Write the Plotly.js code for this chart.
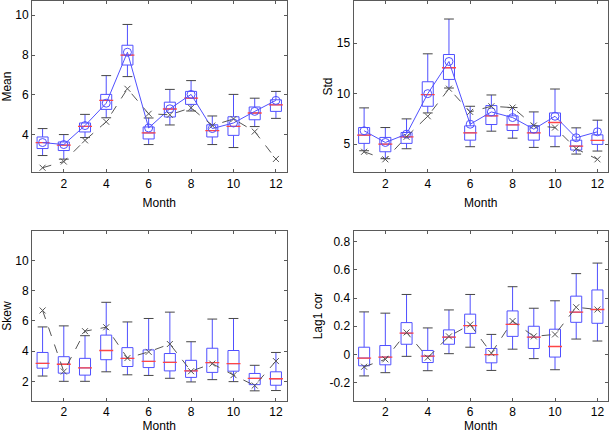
<!DOCTYPE html>
<html>
<head>
<meta charset="utf-8">
<script src="https://cdn.plot.ly/plotly-3.0.1.min.js"></script>
<style>html,body{margin:0;padding:0;background:#fff;}#chart{width:609px;height:433px;}</style>
</head>
<body>
<div id="chart"></div>
<script>
const months = [1,2,3,4,5,6,7,8,9,10,11,12];

// Panel 1: Mean
const meanLow  = [2.97,2.79,3.87,4.86,6.92,3.52,4.50,5.20,3.52,3.37,4.42,4.83];
const meanQ1   = [3.32,3.22,4.15,5.28,7.50,3.80,4.90,5.53,3.90,3.98,4.76,5.18];
const meanMed  = [3.62,3.49,4.43,5.73,8.00,4.10,5.30,5.84,4.22,4.43,5.10,5.51];
const meanQ3   = [3.90,3.65,4.60,6.03,8.49,4.40,5.64,6.18,4.51,4.91,5.40,5.76];
const meanHigh = [4.32,4.02,5.03,6.97,9.53,4.85,6.28,6.72,4.95,6.03,5.84,6.18];
const meanSim  = [3.62,3.52,4.47,5.59,8.14,4.35,5.31,6.03,4.32,4.60,5.18,5.73];
const meanObs  = [2.36,2.67,3.73,4.66,6.31,5.06,5.01,5.36,4.47,4.80,4.17,2.80];

// Panel 2: Std
const stdLow  = [4.34,3.55,4.54,8.09,10.56,4.74,6.28,5.59,4.67,4.74,4.01,4.31];
const stdQ1   = [5.07,4.24,5.07,8.75,11.41,5.39,6.94,6.35,5.39,5.79,4.41,4.97];
const stdMed  = [5.89,5.00,5.72,9.90,12.57,6.12,7.80,6.91,6.12,7.14,4.80,5.36];
const stdQ3   = [6.64,5.66,6.15,11.18,13.88,6.81,8.82,7.80,6.81,8.09,5.39,5.92];
const stdHigh = [8.59,6.64,7.50,13.95,17.40,8.75,9.87,8.62,8.19,10.46,6.61,7.37];
const stdSim  = [6.32,5.16,5.99,10.00,13.19,6.97,8.19,7.63,6.48,7.76,5.63,6.22];
const stdObs  = [4.24,3.49,5.72,7.76,10.49,8.19,8.75,8.62,6.84,6.64,4.54,3.49];

// Panel 3: Skew
const skewLow  = [2.35,2.00,2.00,2.63,2.43,2.39,2.20,1.96,2.11,1.98,1.37,1.39];
const skewQ1   = [2.87,2.54,2.41,3.43,2.98,2.91,2.69,2.26,2.59,2.67,1.78,1.74];
const skewMed  = [3.19,3.13,2.89,4.04,3.52,3.32,3.26,2.69,3.24,3.17,2.20,2.17];
const skewQ3   = [3.91,3.63,3.52,5.06,4.23,4.08,3.84,3.39,4.19,4.04,2.52,2.63];
const skewHigh = [5.60,5.67,5.02,7.23,5.93,6.16,6.58,4.62,6.12,6.16,3.06,3.91];
const skewObs  = [6.69,2.65,5.32,5.58,3.54,3.95,4.47,2.67,3.17,2.41,1.72,3.34];

// Panel 4: Lag1 cor
const corLow  = [-0.153,-0.130,-0.014,-0.116,0.005,0.051,-0.114,0.037,-0.030,-0.109,0.109,0.095];
const corQ1   = [-0.081,-0.074,0.072,-0.058,0.072,0.149,-0.060,0.128,0.042,-0.019,0.228,0.221];
const corMed  = [-0.026,-0.019,0.151,-0.012,0.123,0.205,-0.002,0.214,0.123,0.056,0.300,0.319];
const corQ3   = [0.051,0.063,0.226,0.028,0.174,0.286,0.042,0.309,0.200,0.179,0.414,0.458];
const corHigh = [0.302,0.293,0.426,0.188,0.316,0.426,0.142,0.481,0.328,0.381,0.574,0.649];
const corObs  = [-0.088,-0.035,0.156,-0.023,0.128,0.212,0.009,0.237,0.128,0.142,0.335,0.319];

const xTicks = [2,4,6,8,10,12];
const corTickVals = [-0.2,0,0.2,0.4,0.6,0.8];
const corTickText = ['-0.2','0','0.2','0.4','0.6','0.8'];

const BLUE = 'rgb(80,80,255)';
const RED = 'rgb(255,70,70)';
const CAP = 'rgb(70,70,70)';
const OBS = 'rgb(85,85,85)';

function boxTraces(xa, ya, low, q1, med, q3, high) {
  return [
    {type:'box', x:months, q1:q1, median:med, q3:q3, lowerfence:low, upperfence:high,
     xaxis:xa, yaxis:ya, width:0.52, whiskerwidth:0, line:{color:BLUE,width:1},
     fillcolor:'rgba(0,0,0,0)', boxpoints:false, hoverinfo:'skip', showlegend:false},
    {type:'scatter', mode:'markers', x:months, y:med, xaxis:xa, yaxis:ya,
     marker:{symbol:'line-ew', size:10, line:{color:RED,width:1.3}}, hoverinfo:'skip', showlegend:false},
    {type:'scatter', mode:'markers', x:months.concat(months), y:low.concat(high), xaxis:xa, yaxis:ya,
     marker:{symbol:'line-ew', size:7, line:{color:CAP,width:1}}, hoverinfo:'skip', showlegend:false}
  ];
}
function simTrace(xa, ya, y) {
  return {type:'scatter', mode:'lines+markers', x:months, y:y, xaxis:xa, yaxis:ya,
    line:{color:BLUE,width:1}, marker:{symbol:'circle-open', size:8, color:BLUE, line:{width:1}},
    hoverinfo:'skip', showlegend:false};
}
function obsTrace(xa, ya, y) {
  return {type:'scatter', mode:'lines+markers', x:months, y:y, xaxis:xa, yaxis:ya,
    line:{color:OBS,width:1,dash:'dash'}, marker:{symbol:'x-thin-open', size:6, color:OBS, line:{width:1,color:OBS}},
    hoverinfo:'skip', showlegend:false};
}

const data = [].concat(
  boxTraces('x','y',meanLow,meanQ1,meanMed,meanQ3,meanHigh), [simTrace('x','y',meanSim), obsTrace('x','y',meanObs)],
  boxTraces('x2','y2',stdLow,stdQ1,stdMed,stdQ3,stdHigh), [simTrace('x2','y2',stdSim), obsTrace('x2','y2',stdObs)],
  boxTraces('x3','y3',skewLow,skewQ1,skewMed,skewQ3,skewHigh), [obsTrace('x3','y3',skewObs)],
  boxTraces('x4','y4',corLow,corQ1,corMed,corQ3,corHigh), [obsTrace('x4','y4',corObs)]
);

const font = {family:'Liberation Sans, Arial, sans-serif', size:12, color:'#000'};
function xAxis(dom, anchor, standoff) {
  return {domain:dom, anchor:anchor, range:[0.5,12.5], tickmode:'array', tickvals:xTicks,
    ticks:'inside', ticklen:3, tickcolor:'rgb(90,90,90)', showline:true, linecolor:'rgb(90,90,90)', linewidth:1,
    mirror:'ticks', showgrid:false, zeroline:false, tickfont:font,
    title:{text:'Month', font:font, standoff:standoff}};
}
function yAxis(dom, anchor, range, extra, title, standoff) {
  return Object.assign({domain:dom, anchor:anchor, range:range,
    ticks:'inside', ticklen:3, tickcolor:'rgb(90,90,90)', showline:true, linecolor:'rgb(90,90,90)', linewidth:1,
    mirror:'ticks', showgrid:false, zeroline:false, tickfont:font,
    title:{text:title, font:font, standoff:standoff}}, extra);
}

const layout = {
  width:609, height:433, margin:{l:0,r:0,t:0,b:0}, paper_bgcolor:'#fff', plot_bgcolor:'#fff',
  font:font, showlegend:false, boxmode:'overlay',
  xaxis:  xAxis([0.0525,0.4705],'y',8),
  yaxis:  yAxis([0.602,0.998],'x',[2.13,10.71],{tickvals:[4,6,8,10],tickmode:'array'},'Mean',4),
  xaxis2: xAxis([0.5805,0.9984],'y2',8),
  yaxis2: yAxis([0.602,0.998],'x2',[2.2,19.2],{tickvals:[5,10,15],tickmode:'array'},'Std',1),
  xaxis3: xAxis([0.0525,0.4705],'y3',1),
  yaxis3: yAxis([0.074,0.4665],'x3',[0.70,11.95],{tickvals:[2,4,6,8,10],tickmode:'array'},'Skew',4),
  xaxis4: xAxis([0.5805,0.9984],'y4',1),
  yaxis4: yAxis([0.074,0.4665],'x4',[-0.331,0.877],{tickvals:corTickVals,ticktext:corTickText,tickmode:'array'},'Lag1 cor',4)
};

Plotly.newPlot('chart', data, layout, {staticPlot:true, displayModeBar:false});
</script>
</body>
</html>
